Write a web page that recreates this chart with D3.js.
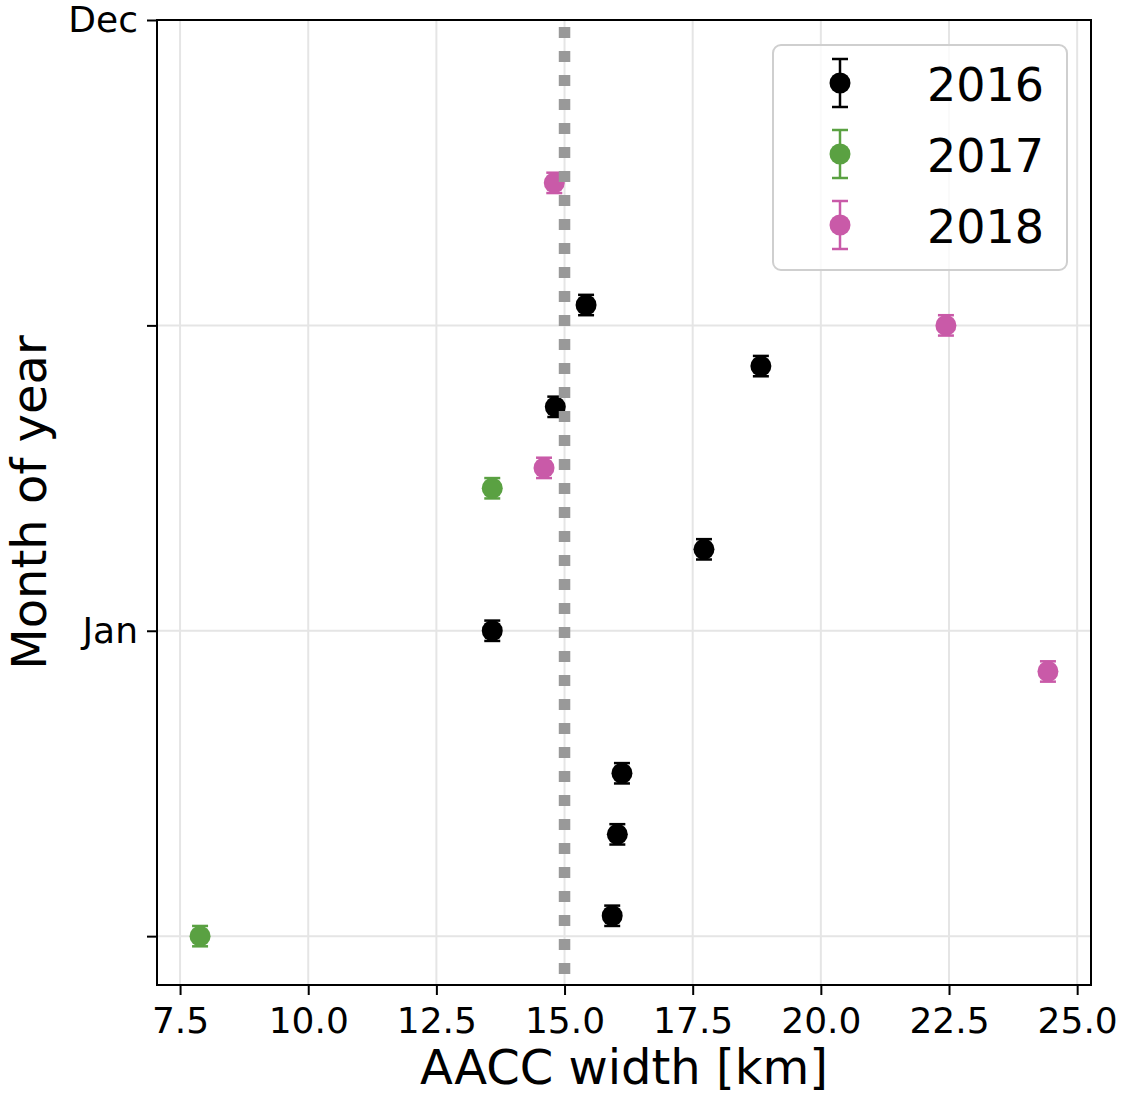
<!DOCTYPE html>
<html>
<head>
<meta charset="utf-8">
<script src="https://cdn.jsdelivr.net/npm/d3@7"></script>
<style>
  html, body { margin: 0; padding: 0; background: #fff; }
  svg { display: block; font-family: "DejaVu Sans", sans-serif; }
</style>
</head>
<body>
<svg id="chart" width="1122" height="1095"></svg>
<script>
// AACC width per observation, y position in half-month steps (Jan = 15, Dec = 45)
const years = ["2016", "2017", "2018"];
const colors = ["#000000", "#5aa142", "#c95aa8"];

const width2016 = [15.42, 18.83, 14.82, 17.72, 13.59, 16.12, 16.03, 15.93];
const step2016  = [31, 28, 26, 19, 15, 8, 5, 1];

const width2017 = [13.59, 7.89];
const step2017  = [22, 0];

const width2018 = [14.80, 22.44, 14.60, 24.43];
const step2018  = [37, 30, 23, 13];

const stepError = 0.5;

const xTicks = [7.5, 10.0, 12.5, 15.0, 17.5, 20.0, 22.5, 25.0];
const yTicks = [0, 15, 30, 45];
const yTickLabels = ["", "Jan", "", "Dec"];

const referenceWidth = 15.0;

const series = [
  { year: years[0], color: colors[0], xs: width2016, ys: step2016 },
  { year: years[1], color: colors[1], xs: width2017, ys: step2017 },
  { year: years[2], color: colors[2], xs: width2018, ys: step2018 }
];

const svg = d3.select("#chart");
const plotLeft = 157, plotRight = 1091, plotTop = 20, plotBottom = 985;

const x = d3.scaleLinear().domain([7.05, 25.27]).range([plotLeft, plotRight]);
const y = d3.scaleLinear().domain([-2.4, 45]).range([plotBottom, plotTop]);

// grid
const grid = svg.append("g").attr("stroke", "#e5e5e5").attr("stroke-width", 2);
grid.selectAll("line.vx").data(xTicks).join("line")
  .attr("x1", d => x(d)).attr("x2", d => x(d)).attr("y1", plotTop).attr("y2", plotBottom);
grid.selectAll("line.hy").data(yTicks).join("line")
  .attr("y1", d => y(d)).attr("y2", d => y(d)).attr("x1", plotLeft).attr("x2", plotRight);

// axes
const xAxis = d3.axisBottom(x).tickValues(xTicks).tickFormat(d3.format(".1f"))
  .tickSize(10).tickPadding(12);
const yAxis = d3.axisLeft(y).tickValues(yTicks).tickFormat((d, i) => yTickLabels[i])
  .tickSize(10).tickPadding(9);

const gx = svg.append("g").attr("transform", `translate(0,${plotBottom})`).call(xAxis);
const gy = svg.append("g").attr("transform", `translate(${plotLeft},0)`).call(yAxis);
[gx, gy].forEach(g => {
  g.select(".domain").remove();
  g.selectAll(".tick line").attr("stroke", "#000").attr("stroke-width", 2);
  g.selectAll(".tick text").attr("font-size", 36).attr("fill", "#000")
    .attr("font-family", "DejaVu Sans, sans-serif");
});

// error bars and markers
series.forEach(s => {
  const g = svg.append("g").attr("stroke", s.color).attr("fill", s.color);
  const pts = s.xs.map((v, i) => ({ xv: v, yv: s.ys[i] }));
  g.selectAll("line.err").data(pts).join("line")
    .attr("x1", d => x(d.xv)).attr("x2", d => x(d.xv))
    .attr("y1", d => y(d.yv - stepError)).attr("y2", d => y(d.yv + stepError))
    .attr("stroke-width", 2.5);
  g.selectAll("line.capTop").data(pts).join("line")
    .attr("x1", d => x(d.xv) - 8).attr("x2", d => x(d.xv) + 8)
    .attr("y1", d => y(d.yv + stepError)).attr("y2", d => y(d.yv + stepError))
    .attr("stroke-width", 2.5);
  g.selectAll("line.capBot").data(pts).join("line")
    .attr("x1", d => x(d.xv) - 8).attr("x2", d => x(d.xv) + 8)
    .attr("y1", d => y(d.yv - stepError)).attr("y2", d => y(d.yv - stepError))
    .attr("stroke-width", 2.5);
  g.selectAll("circle").data(pts).join("circle")
    .attr("cx", d => x(d.xv)).attr("cy", d => y(d.yv)).attr("r", 10.5)
    .attr("stroke", "none");
});

// reference width line
svg.append("line")
  .attr("x1", x(referenceWidth)).attr("x2", x(referenceWidth))
  .attr("y1", plotTop).attr("y2", plotBottom)
  .attr("stroke", "#999999").attr("stroke-width", 11.5)
  .attr("stroke-dasharray", "11 13").attr("stroke-dashoffset", -7);

// frame
svg.append("rect").attr("x", plotLeft).attr("y", plotTop)
  .attr("width", plotRight - plotLeft).attr("height", plotBottom - plotTop)
  .attr("fill", "none").attr("stroke", "#000").attr("stroke-width", 2);

// legend
const lg = svg.append("g");
lg.append("rect").attr("x", 773).attr("y", 45).attr("width", 294).attr("height", 225)
  .attr("rx", 8).attr("fill", "#fff").attr("fill-opacity", 0.8)
  .attr("stroke", "#cfcfcf").attr("stroke-width", 2);
series.forEach((s, i) => {
  const cy = 83 + i * 71, cx = 840;
  const e = lg.append("g").attr("stroke", s.color).attr("stroke-width", 2.5);
  e.append("line").attr("x1", cx).attr("x2", cx).attr("y1", cy - 24).attr("y2", cy + 24);
  e.append("line").attr("x1", cx - 8).attr("x2", cx + 8).attr("y1", cy - 24).attr("y2", cy - 24);
  e.append("line").attr("x1", cx - 8).attr("x2", cx + 8).attr("y1", cy + 24).attr("y2", cy + 24);
  lg.append("circle").attr("cx", cx).attr("cy", cy).attr("r", 10.5).attr("fill", s.color);
  lg.append("text").attr("x", 927).attr("y", cy + 18).attr("font-size", 46)
    .attr("fill", "#000").text(s.year);
});

// axis titles
svg.append("text").attr("x", (plotLeft + plotRight) / 2).attr("y", 1084)
  .attr("text-anchor", "middle").attr("font-size", 48).attr("fill", "#000")
  .text("AACC width [km]");
svg.append("text").attr("transform", `translate(46,${(plotTop + plotBottom) / 2}) rotate(-90)`)
  .attr("text-anchor", "middle").attr("font-size", 48).attr("fill", "#000")
  .text("Month of year");
</script>
</body>
</html>
